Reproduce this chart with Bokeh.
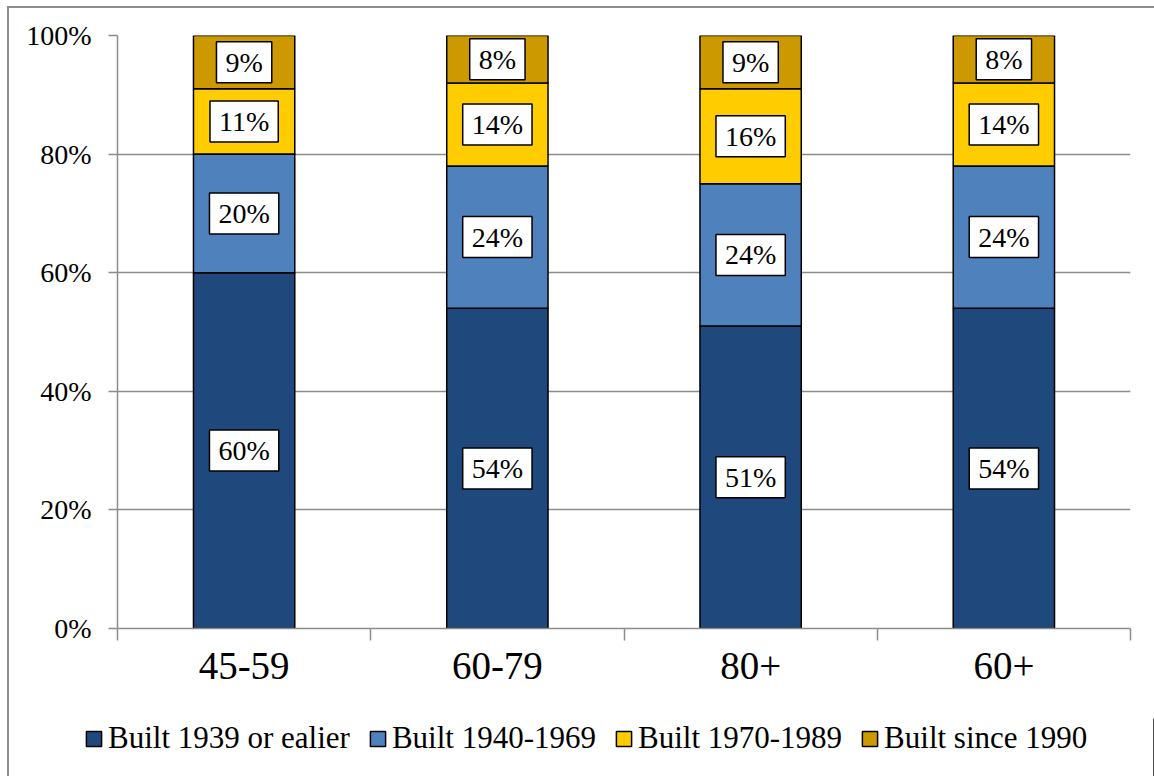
from bokeh.plotting import figure
from bokeh.layouts import column
from bokeh.models import (ColumnDataSource, FixedTicker, Legend, LegendItem,
                          Range1d)
from bokeh.core.properties import value
from bokeh.embed import file_html
from bokeh.resources import INLINE

groups = ["45-59", "60-79", "80+", "60+"]
series = ["Built 1939 or ealier", "Built 1940-1969", "Built 1970-1989", "Built since 1990"]
built_1939_or_earlier = [60, 54, 51, 54]
built_1940_1969 = [20, 24, 24, 24]
built_1970_1989 = [11, 14, 16, 14]
built_since_1990 = [9, 8, 9, 8]
colors = ["#1F497D", "#4F81BD", "#FFCC00", "#CC9900"]
y_ticks = [0, 20, 40, 60, 80, 100]
y_tick_labels = ["0%", "20%", "40%", "60%", "80%", "100%"]

values = [built_1939_or_earlier, built_1940_1969, built_1970_1989, built_since_1990]
FONT = "Liberation Serif"
GRAY = "#8c8c8c"

p = figure(width=1145, height=710, output_backend="svg", toolbar_location=None,
           x_range=Range1d(0, len(groups)), y_range=Range1d(0, 100),
           min_border_left=108, min_border_right=24, min_border_top=27,
           min_border_bottom=90)
p.frame_align = False
p.outline_line_color = None
p.background_fill_color = "white"
p.border_fill_color = "white"

xs = [i + 0.5 for i in range(len(groups))]
bottoms = [0] * len(groups)
label_x, label_y, label_t = [], [], []
for k, vals in enumerate(values):
    tops = [b + v for b, v in zip(bottoms, vals)]
    src = ColumnDataSource(dict(x=xs, top=tops, bottom=bottoms))
    p.vbar(x="x", top="top", bottom="bottom", width=0.40, source=src,
           fill_color=colors[k], line_color="black", line_width=1.5)
    for x, b, v in zip(xs, bottoms, vals):
        label_x.append(x)
        label_y.append(b + v / 2)
        label_t.append(f"{v}%")
    bottoms = tops

lsrc = ColumnDataSource(dict(x=label_x, y=label_y, t=label_t))
p.text(x="x", y="y", text="t", source=lsrc, text_align="center",
       text_baseline="middle", text_font=value(FONT), text_font_size="28px",
       text_color="black", background_fill_color="white",
       border_line_color="black", border_line_width=1.5,
       padding=dict(left=9, right=9, top=5, bottom=5))

# axes
p.xgrid.grid_line_color = None
p.ygrid.grid_line_color = GRAY
p.ygrid.grid_line_width = 1.5
p.ygrid.ticker = FixedTicker(ticks=y_ticks)

p.yaxis.ticker = FixedTicker(ticks=y_ticks)
p.yaxis.major_label_overrides = {t: l for t, l in zip(y_ticks, y_tick_labels)}
p.yaxis.axis_line_color = GRAY
p.yaxis.axis_line_width = 1.5
p.yaxis.major_tick_line_color = GRAY
p.yaxis.major_tick_line_width = 1.5
p.yaxis.major_tick_in = 0
p.yaxis.major_tick_out = 9
p.yaxis.minor_tick_line_color = None
p.yaxis.major_label_standoff = 17
p.yaxis.major_label_text_font = FONT
p.yaxis.major_label_text_font_size = "28px"
p.yaxis.major_label_text_color = "black"

p.xaxis.ticker = FixedTicker(ticks=xs, minor_ticks=list(range(len(groups) + 1)))
p.xaxis.major_label_overrides = {x: g for x, g in zip(xs, groups)}
p.xaxis.axis_line_color = GRAY
p.xaxis.axis_line_width = 1.5
p.xaxis.major_tick_line_color = None
p.xaxis.minor_tick_line_color = GRAY
p.xaxis.minor_tick_line_width = 1.5
p.xaxis.minor_tick_in = 0
p.xaxis.minor_tick_out = 12
p.xaxis.major_tick_out = 12
p.xaxis.major_tick_in = 0
p.xaxis.major_label_standoff = 12
p.xaxis.major_label_text_font = FONT
p.xaxis.major_label_text_font_size = "39px"
p.xaxis.major_label_text_color = "black"

# legend strip (a second, axis-less figure holding only the legend)
lp = figure(width=1145, height=58, output_backend="svg", toolbar_location=None,
            x_axis_type=None, y_axis_type=None, x_range=Range1d(0, 1),
            y_range=Range1d(0, 1), min_border=0)
lp.frame_align = False
lp.outline_line_color = None
lp.xgrid.grid_line_color = None
lp.ygrid.grid_line_color = None
lrs = []
for k, s in enumerate(series):
    # off-range proxy bar so the legend has a glyph to draw
    r = lp.vbar(x=[5], top=[1], bottom=[0], width=0.1, fill_color=colors[k],
                line_color="black", line_width=1.5)
    lrs.append(r)
legend = Legend(items=[LegendItem(label=s, renderers=[r]) for s, r in zip(series, lrs)],
                orientation="horizontal", location=(75, 20),
                glyph_width=19, glyph_height=19, label_standoff=5, spacing=18,
                padding=0, margin=0, border_line_color=None,
                background_fill_alpha=0, label_text_font=FONT,
                label_text_font_size="31px", label_text_color="black")
lp.add_layout(legend)

layout = column(p, lp, styles={"margin-left": "7px", "margin-top": "6px",
                               "border-left": "2px solid #8c8c8c",
                               "border-top": "2px solid #8c8c8c"})

open("out.html", "w").write(file_html(layout, INLINE))
